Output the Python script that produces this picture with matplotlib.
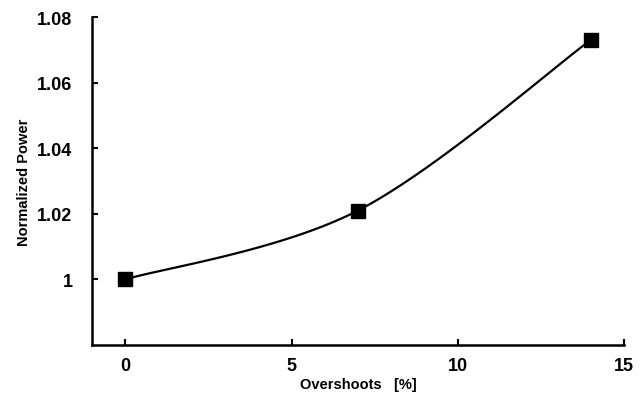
import numpy as np
import matplotlib.pyplot as plt

overshoot = [0, 7, 14]
power = [1.0, 1.021, 1.073]
xticks = [0, 5, 10, 15]
yticks = [1.0, 1.02, 1.04, 1.06, 1.08]
ytick_labels = ['1', '1.02', '1.04', '1.06', '1.08']

plt.rcParams['font.family'] = 'Liberation Sans'
plt.rcParams['font.weight'] = 'bold'
plt.rcParams['axes.labelweight'] = 'bold'


def smooth(xs, ys, xr, yr, n=60):
    # Catmull-Rom style smoothing (like a spreadsheet "smoothed line"),
    # done in axis-normalised units so the curve shape does not depend on scale
    px = (np.array(xs) - xr[0]) / (xr[1] - xr[0])
    py = (np.array(ys) - yr[0]) / (yr[1] - yr[0])
    P = np.column_stack([px, py])
    P = np.vstack([P[0], P, P[-1]])
    out = []
    for i in range(1, len(P) - 2):
        p0, p1, p2, p3 = P[i - 1], P[i], P[i + 1], P[i + 2]
        c1 = p1 + (p2 - p0) / 6
        c2 = p2 - (p3 - p1) / 6
        t = np.linspace(0, 1, n)[:, None]
        seg = (1 - t) ** 3 * p1 + 3 * (1 - t) ** 2 * t * c1 + 3 * (1 - t) * t ** 2 * c2 + t ** 3 * p2
        out.append(seg)
    out = np.vstack(out)
    return out[:, 0] * (xr[1] - xr[0]) + xr[0], out[:, 1] * (yr[1] - yr[0]) + yr[0]


xlim = (-1, 15)
ylim = (0.98, 1.08)

fig = plt.figure(figsize=(6.42, 4.14), dpi=100)
ax = fig.add_axes([0.1433, 0.1643, 0.8287, 0.7922])

sx, sy = smooth(overshoot, power, xlim, ylim)
ax.plot(sx, sy, c='black', lw=1.6)
ax.plot(overshoot, power, ls='none', marker='s', ms=9.5, c='black')

ax.set_xlim(xlim)
ax.set_ylim(ylim)
ax.set_xticks(xticks)
ax.set_yticks(yticks)
ax.set_yticklabels(ytick_labels)
ax.tick_params(direction='in', length=4, width=1.5, labelsize=13, pad=14)
ax.tick_params(axis='x', pad=9)

for s in ['top', 'right']:
    ax.spines[s].set_visible(False)
for s in ['left', 'bottom']:
    ax.spines[s].set_linewidth(1.8)

ax.set_xlabel('Overshoots   [%]', fontsize=10.5, labelpad=2)
ax.set_ylabel('Normalized Power', fontsize=10.5, labelpad=4.5)

plt.savefig('out.png', dpi=100)
